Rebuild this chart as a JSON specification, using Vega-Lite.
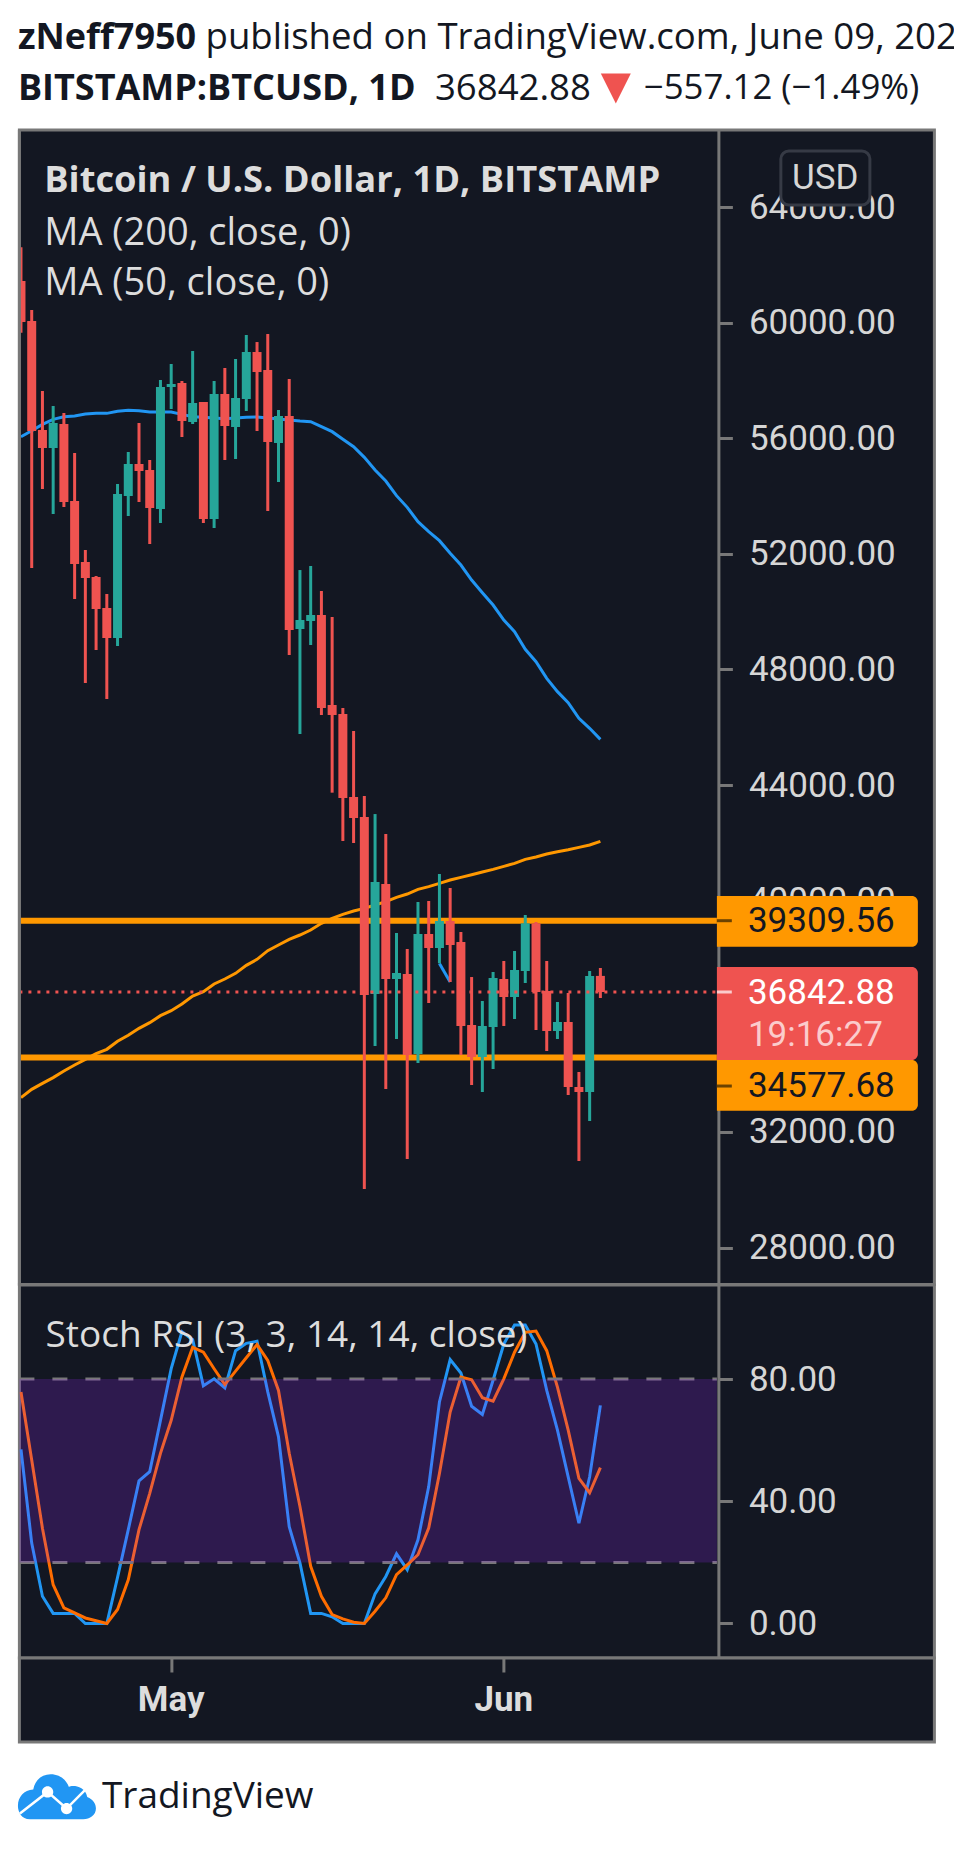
{
  "$schema": "https://vega.github.io/schema/vega-lite/v6.json",
  "background": "#ffffff",
  "padding": {"left": 14.4, "top": 0, "right": 0, "bottom": 0},
  "bounds": "flush",
  "spacing": 0,
  "config": {
    "view": {"stroke": null},
    "text": {"font": "Roboto"},
    "axisY": {
      "grid": false,
      "format": ".2f",
      "domainColor": "#787878",
      "domainWidth": 3,
      "tickColor": "#787878",
      "tickWidth": 3,
      "tickSize": 14,
      "labelPadding": 16,
      "labelFont": "Roboto",
      "labelFontSize": 35,
      "labelColor": "#d6d6d6"
    }
  },
  "datasets": {
    "daily": [
      {"date": "2021-04-17", "open": 61440, "high": 62604, "low": 59652, "close": 60021, "ma50": 56054, "ma200": 33188, "k": 57, "d": 75.8},
      {"date": "2021-04-18", "open": 60056, "high": 60436, "low": 51511, "close": 56250, "ma50": 56262, "ma200": 33476, "k": 26.3, "d": 53.5},
      {"date": "2021-04-19", "open": 56285, "high": 57634, "low": 54244, "close": 55662, "ma50": 56481, "ma200": 33683, "k": 8.9, "d": 31.2},
      {"date": "2021-04-20", "open": 55662, "high": 57115, "low": 53379, "close": 56527, "ma50": 56654, "ma200": 33880, "k": 3.3, "d": 12.7},
      {"date": "2021-04-21", "open": 56493, "high": 56873, "low": 53621, "close": 53794, "ma50": 56746, "ma200": 34110, "k": 3.3, "d": 5.1},
      {"date": "2021-04-22", "open": 53829, "high": 55489, "low": 50438, "close": 51649, "ma50": 56769, "ma200": 34318, "k": 3.3, "d": 3.5},
      {"date": "2021-04-23", "open": 51718, "high": 52134, "low": 47532, "close": 51165, "ma50": 56839, "ma200": 34514, "k": 0, "d": 1.8},
      {"date": "2021-04-24", "open": 51199, "high": 51234, "low": 48674, "close": 50092, "ma50": 56861, "ma200": 34710, "k": 0, "d": 0.9},
      {"date": "2021-04-25", "open": 50127, "high": 50611, "low": 46978, "close": 49089, "ma50": 56861, "ma200": 34860, "k": 0, "d": 0},
      {"date": "2021-04-26", "open": 49089, "high": 54417, "low": 48812, "close": 54071, "ma50": 56931, "ma200": 35137, "k": 15.1, "d": 4.6},
      {"date": "2021-04-27", "open": 54002, "high": 55524, "low": 53310, "close": 55109, "ma50": 56965, "ma200": 35344, "k": 30.7, "d": 14.3},
      {"date": "2021-04-28", "open": 55109, "high": 56527, "low": 53794, "close": 54866, "ma50": 56954, "ma200": 35586, "k": 46.7, "d": 30.7},
      {"date": "2021-04-29", "open": 54901, "high": 55247, "low": 52341, "close": 53587, "ma50": 56908, "ma200": 35782, "k": 49.7, "d": 42.6},
      {"date": "2021-04-30", "open": 53552, "high": 58015, "low": 53068, "close": 57772, "ma50": 56908, "ma200": 36024, "k": 66.5, "d": 55.7},
      {"date": "2021-05-01", "open": 57772, "high": 58568, "low": 57011, "close": 57876, "ma50": 56908, "ma200": 36197, "k": 83.4, "d": 66.5},
      {"date": "2021-05-02", "open": 57911, "high": 57980, "low": 56043, "close": 56596, "ma50": 56827, "ma200": 36428, "k": 95.5, "d": 80.7},
      {"date": "2021-05-03", "open": 56562, "high": 59018, "low": 56493, "close": 57219, "ma50": 56746, "ma200": 36705, "k": 92.9, "d": 90.4},
      {"date": "2021-05-04", "open": 57254, "high": 57254, "low": 53068, "close": 53206, "ma50": 56723, "ma200": 36855, "k": 77.8, "d": 88.8},
      {"date": "2021-05-05", "open": 53206, "high": 57980, "low": 52894, "close": 57530, "ma50": 56700, "ma200": 37120, "k": 80.1, "d": 83.4},
      {"date": "2021-05-06", "open": 57530, "high": 58430, "low": 55247, "close": 56423, "ma50": 56677, "ma200": 37293, "k": 77.1, "d": 78.2},
      {"date": "2021-05-07", "open": 56389, "high": 58741, "low": 55282, "close": 57392, "ma50": 56700, "ma200": 37489, "k": 89.3, "d": 82.6},
      {"date": "2021-05-08", "open": 57357, "high": 59571, "low": 56942, "close": 58983, "ma50": 56723, "ma200": 37766, "k": 91.7, "d": 87},
      {"date": "2021-05-09", "open": 58983, "high": 59329, "low": 56250, "close": 58291, "ma50": 56735, "ma200": 37973, "k": 92.4, "d": 91.3},
      {"date": "2021-05-10", "open": 58361, "high": 59606, "low": 53483, "close": 55870, "ma50": 56700, "ma200": 38273, "k": 75.8, "d": 86.1},
      {"date": "2021-05-11", "open": 55835, "high": 56977, "low": 54486, "close": 56769, "ma50": 56665, "ma200": 38469, "k": 61.1, "d": 76.3},
      {"date": "2021-05-12", "open": 56769, "high": 58049, "low": 48501, "close": 49366, "ma50": 56631, "ma200": 38665, "k": 31.7, "d": 55.7},
      {"date": "2021-05-13", "open": 49401, "high": 51441, "low": 45768, "close": 49712, "ma50": 56596, "ma200": 38815, "k": 19.8, "d": 38.3},
      {"date": "2021-05-14", "open": 49678, "high": 51580, "low": 48847, "close": 49885, "ma50": 56574, "ma200": 38988, "k": 3.3, "d": 18.7},
      {"date": "2021-05-15", "open": 49885, "high": 50716, "low": 46425, "close": 46667, "ma50": 56401, "ma200": 39219, "k": 3.3, "d": 8.9},
      {"date": "2021-05-16", "open": 46771, "high": 49816, "low": 43739, "close": 46426, "ma50": 56228, "ma200": 39392, "k": 2.2, "d": 2.9},
      {"date": "2021-05-17", "open": 46461, "high": 46668, "low": 42067, "close": 43555, "ma50": 55963, "ma200": 39530, "k": 0, "d": 1.5},
      {"date": "2021-05-18", "open": 43589, "high": 45873, "low": 41997, "close": 42863, "ma50": 55709, "ma200": 39646, "k": 0, "d": 0.4},
      {"date": "2021-05-19", "open": 42897, "high": 43624, "low": 30027, "close": 36739, "ma50": 55340, "ma200": 39737, "k": 0, "d": 0},
      {"date": "2021-05-20", "open": 36773, "high": 42999, "low": 34974, "close": 40648, "ma50": 54902, "ma200": 39852, "k": 9.7, "d": 4},
      {"date": "2021-05-21", "open": 40579, "high": 42309, "low": 33487, "close": 37292, "ma50": 54521, "ma200": 39968, "k": 15.4, "d": 8.4},
      {"date": "2021-05-22", "open": 37292, "high": 38884, "low": 35217, "close": 37500, "ma50": 54014, "ma200": 40118, "k": 22.8, "d": 16},
      {"date": "2021-05-23", "open": 37465, "high": 38330, "low": 31065, "close": 34663, "ma50": 53610, "ma200": 40233, "k": 17.6, "d": 19.2},
      {"date": "2021-05-24", "open": 34698, "high": 39956, "low": 34386, "close": 38849, "ma50": 53114, "ma200": 40394, "k": 27.4, "d": 22.5},
      {"date": "2021-05-25", "open": 38849, "high": 39991, "low": 36462, "close": 38365, "ma50": 52768, "ma200": 40487, "k": 44.8, "d": 31.2},
      {"date": "2021-05-26", "open": 38365, "high": 40925, "low": 37834, "close": 39299, "ma50": 52457, "ma200": 40602, "k": 72.5, "d": 49.1},
      {"date": "2021-05-27", "open": 39299, "high": 40441, "low": 37188, "close": 38469, "ma50": 52019, "ma200": 40717, "k": 86.4, "d": 69.2},
      {"date": "2021-05-28", "open": 38572, "high": 38918, "low": 34663, "close": 35666, "ma50": 51615, "ma200": 40810, "k": 82, "d": 80.7},
      {"date": "2021-05-29", "open": 35701, "high": 37361, "low": 33625, "close": 34594, "ma50": 51096, "ma200": 40902, "k": 71.1, "d": 79.8},
      {"date": "2021-05-30", "open": 34594, "high": 36531, "low": 33383, "close": 35666, "ma50": 50658, "ma200": 40994, "k": 68.4, "d": 73.9},
      {"date": "2021-05-31", "open": 35632, "high": 37535, "low": 34179, "close": 37327, "ma50": 50231, "ma200": 41086, "k": 79.6, "d": 72.8},
      {"date": "2021-06-01", "open": 37292, "high": 37915, "low": 35666, "close": 36670, "ma50": 49712, "ma200": 41190, "k": 91.5, "d": 80.1},
      {"date": "2021-06-02", "open": 36670, "high": 38261, "low": 35909, "close": 37604, "ma50": 49309, "ma200": 41294, "k": 97.7, "d": 88.8},
      {"date": "2021-06-03", "open": 37569, "high": 39507, "low": 37154, "close": 39218, "ma50": 48698, "ma200": 41432, "k": 97.7, "d": 95.3},
      {"date": "2021-06-04", "open": 39218, "high": 39264, "low": 35528, "close": 36843, "ma50": 48271, "ma200": 41513, "k": 91.5, "d": 95.7},
      {"date": "2021-06-05", "open": 36877, "high": 37915, "low": 34801, "close": 35493, "ma50": 47694, "ma200": 41617, "k": 76.3, "d": 89.3},
      {"date": "2021-06-06", "open": 35493, "high": 36497, "low": 35217, "close": 35805, "ma50": 47233, "ma200": 41698, "k": 63.3, "d": 77.4},
      {"date": "2021-06-07", "open": 35805, "high": 36808, "low": 33279, "close": 33556, "ma50": 46853, "ma200": 41767, "k": 48, "d": 63.3},
      {"date": "2021-06-08", "open": 33556, "high": 34075, "low": 30996, "close": 33383, "ma50": 46311, "ma200": 41847, "k": 32.8, "d": 47.5},
      {"date": "2021-06-09", "open": 33383, "high": 37569, "low": 32380, "close": 37400, "ma50": 45965, "ma200": 41928, "k": 48, "d": 42.8},
      {"date": "2021-06-10", "open": 37400, "high": 37673, "low": 36635, "close": 36842.88, "ma50": 45584, "ma200": 42055, "k": 71.4, "d": 51}
    ],
    "levels": [
      {"date": "2021-04-16T20:28Z", "dateEnd": "2021-06-20T20:38Z", "price": 39309.56},
      {"date": "2021-04-16T20:28Z", "dateEnd": "2021-06-20T20:38Z", "price": 34577.68}
    ],
    "priceTags": [
      {"date": "2021-06-20T20:38Z", "dateEnd": "2021-07-09T14:10Z", "top": 40164, "bottom": 38411, "kind": "level"},
      {"date": "2021-06-20T20:38Z", "dateEnd": "2021-07-09T14:10Z", "top": 37708, "bottom": 34491, "kind": "last"},
      {"date": "2021-06-20T20:38Z", "dateEnd": "2021-07-09T14:10Z", "top": 34491, "bottom": 32737, "kind": "level"}
    ],
    "tagTicks": [
      {"date": "2021-06-20T20:38Z", "dateEnd": "2021-06-22T06:00Z", "price": 39309.56, "kind": "level"},
      {"date": "2021-06-20T20:38Z", "dateEnd": "2021-06-22T06:00Z", "price": 36842.88, "kind": "last"},
      {"date": "2021-06-20T20:38Z", "dateEnd": "2021-06-22T06:00Z", "price": 33590, "kind": "level"}
    ],
    "tagLabels": [
      {"date": "2021-06-23T18:00Z", "price": 39309, "label": "39309.56", "kind": "level"},
      {"date": "2021-06-23T18:00Z", "price": 36819, "label": "36842.88", "kind": "last"},
      {"date": "2021-06-23T18:00Z", "price": 35355, "label": "19:16:27", "kind": "countdown"},
      {"date": "2021-06-23T18:00Z", "price": 33590, "label": "34577.68", "kind": "level"}
    ]
  },
  "vconcat": [
    {
      "width": 915,
      "height": 130,
      "data": {
        "values": [
          {"date": "2021-04-16T17:07Z", "line": "first", "label": "zNeff7950", "weight": "bold"},
          {"date": "2021-05-04T04:44Z", "line": "first", "label": "published on TradingView.com, June 09, 2021", "weight": "normal"},
          {"date": "2021-04-16T17:07Z", "line": "second", "label": "BITSTAMP:BTCUSD, 1D", "weight": "bold"},
          {"date": "2021-05-25T13:55Z", "line": "second", "label": "36842.88", "weight": "normal"},
          {"date": "2021-06-14T01:12Z", "line": "second", "label": "−557.12 (−1.49%)", "weight": "change"}
        ]
      },
      "encoding": {
        "x": {"field": "date", "type": "temporal", "axis": null, "scale": {"type": "utc", "domain": ["2021-04-16T20:28Z", "2021-07-11T03:07Z"]}},
        "y": {"field": "line", "type": "ordinal", "axis": null, "scale": {"type": "point", "padding": 0, "domain": ["first", "second"], "range": [38, 88.5]}}
      },
      "layer": [
        {
          "transform": [{"filter": "datum.weight == 'bold'"}],
          "mark": {"type": "text", "align": "left", "baseline": "middle", "font": "Open Sans", "fontWeight": "bold", "fontSize": 36, "color": "#131722"},
          "encoding": {"text": {"field": "label"}}
        },
        {
          "transform": [{"filter": "datum.weight == 'normal'"}],
          "mark": {"type": "text", "align": "left", "baseline": "middle", "font": "Open Sans", "fontSize": 36.6, "color": "#131722"},
          "encoding": {"text": {"field": "label"}}
        },
        {
          "transform": [{"filter": "datum.weight == 'change'"}],
          "mark": {"type": "text", "align": "left", "baseline": "middle", "font": "Open Sans", "fontSize": 34.8, "color": "#131722"},
          "encoding": {"text": {"field": "label"}}
        },
        {
          "data": {"values": [{"date": "2021-06-11T10:34Z", "line": "second"}]},
          "mark": {"type": "point", "shape": "M-1,-1L1,-1L0,1Z", "size": 900, "filled": true, "opacity": 1, "color": "#ef5350"}
        }
      ]
    },
    {
      "width": 915,
      "height": 1154.5,
      "view": {"fill": "#131722", "stroke": "#787878", "strokeWidth": 3},
      "encoding": {
        "x": {"field": "date", "type": "temporal", "axis": null, "scale": {"type": "utc", "padding": 0, "domain": ["2021-04-16T20:28Z", "2021-07-11T03:07Z"]}}
      },
      "layer": [
        {
          "data": {"name": "levels"},
          "mark": {"type": "rule", "strokeWidth": 6, "color": "#ff9800"},
          "encoding": {
            "x2": {"field": "dateEnd"},
            "y": {
              "field": "price",
              "type": "quantitative",
              "scale": {"domain": [26724, 66664], "nice": false, "zero": false},
              "axis": {
                "orient": "right",
                "offset": -216,
                "title": null,
                "values": [28000, 32000, 36000, 40000, 44000, 48000, 52000, 56000, 60000, 64000]
              }
            }
          }
        },
        {
          "data": {"name": "daily"},
          "mark": {"type": "line", "strokeWidth": 3, "color": "#2196f3", "clip": true},
          "encoding": {"y": {"field": "ma50", "type": "quantitative", "axis": {"orient": "right", "title": null}}}
        },
        {
          "data": {"name": "daily"},
          "mark": {"type": "line", "strokeWidth": 3, "color": "#ff9800", "clip": true},
          "encoding": {"y": {"field": "ma200", "type": "quantitative", "axis": {"orient": "right", "title": null}}}
        },
        {
          "data": {"values": [{"date": "2021-05-26", "price": 37830}, {"date": "2021-05-27", "price": 37190}]},
          "mark": {"type": "line", "strokeWidth": 3, "color": "#2196f3"},
          "encoding": {"y": {"field": "price", "type": "quantitative", "axis": {"orient": "right", "title": null}}}
        },
        {
          "data": {"name": "daily"},
          "mark": {"type": "rule", "strokeWidth": 3, "clip": true},
          "encoding": {
            "y": {"field": "low", "type": "quantitative", "axis": {"orient": "right", "title": null}},
            "y2": {"field": "high"},
            "color": {"condition": {"test": "datum.close >= datum.open", "value": "#26a69a"}, "value": "#ef5350"}
          }
        },
        {
          "data": {"name": "daily"},
          "mark": {"type": "bar", "width": 9, "clip": true},
          "encoding": {
            "y": {"field": "open", "type": "quantitative", "axis": {"orient": "right", "title": null}},
            "y2": {"field": "close"},
            "color": {"condition": {"test": "datum.close >= datum.open", "value": "#26a69a"}, "value": "#ef5350"}
          }
        },
        {
          "data": {"values": [{"date": "2021-04-16T20:28Z", "dateEnd": "2021-06-20T20:38Z", "price": 36842.88}]},
          "mark": {"type": "rule", "strokeWidth": 3, "strokeDash": [3, 6], "color": "#ef5350"},
          "encoding": {"x2": {"field": "dateEnd"}, "y": {"field": "price", "type": "quantitative", "axis": {"orient": "right", "title": null}}}
        },
        {
          "data": {"values": [{"date": "2021-04-16T20:28Z"}]},
          "mark": {"type": "rule", "strokeWidth": 3, "color": "#787878"}
        },
        {
          "data": {"name": "priceTags"},
          "mark": {"type": "bar", "cornerRadiusTopRight": 6, "cornerRadiusBottomRight": 6},
          "encoding": {
            "x2": {"field": "dateEnd"},
            "y": {"field": "top", "type": "quantitative", "axis": {"orient": "right", "title": null}},
            "y2": {"field": "bottom"},
            "color": {"condition": {"test": "datum.kind == 'last'", "value": "#ef5350"}, "value": "#ff9800"}
          }
        },
        {
          "data": {"name": "tagTicks"},
          "mark": {"type": "rule", "strokeWidth": 3},
          "encoding": {
            "x2": {"field": "dateEnd"},
            "y": {"field": "price", "type": "quantitative", "axis": {"orient": "right", "title": null}},
            "color": {"condition": {"test": "datum.kind == 'last'", "value": "#fbcccc"}, "value": "#6b4200"}
          }
        },
        {
          "data": {"name": "tagLabels"},
          "mark": {"type": "text", "align": "left", "baseline": "middle", "font": "Roboto", "fontSize": 35},
          "encoding": {
            "y": {"field": "price", "type": "quantitative", "axis": {"orient": "right", "title": null}},
            "text": {"field": "label"},
            "color": {
              "condition": [
                {"test": "datum.kind == 'level'", "value": "#131722"},
                {"test": "datum.kind == 'last'", "value": "#ffffff"}
              ],
              "value": "#fbcccc"
            }
          }
        },
        {
          "data": {"values": [{"date": "2021-06-26T19:40Z", "dateEnd": "2021-07-05T02:50Z", "top": 65937, "bottom": 64069}]},
          "mark": {"type": "bar", "cornerRadius": 8, "color": "#131722", "stroke": "#363a45", "strokeWidth": 3},
          "encoding": {
            "x2": {"field": "dateEnd"},
            "y": {"field": "top", "type": "quantitative", "axis": {"orient": "right", "title": null}},
            "y2": {"field": "bottom"}
          }
        },
        {
          "data": {"values": [{"date": "2021-06-30T23:00Z", "price": 65003, "label": "USD"}]},
          "mark": {"type": "text", "align": "center", "baseline": "middle", "font": "Roboto", "fontSize": 35, "color": "#d6d6d6"},
          "encoding": {"y": {"field": "price", "type": "quantitative", "axis": {"orient": "right", "title": null}}, "text": {"field": "label"}}
        },
        {
          "data": {"values": [{"date": "2021-04-19T04:00Z", "price": 64900, "label": "Bitcoin / U.S. Dollar, 1D, BITSTAMP"}]},
          "mark": {"type": "text", "align": "left", "baseline": "middle", "font": "Open Sans", "fontWeight": "bold", "fontSize": 36.3, "color": "#dddddd"},
          "encoding": {"y": {"field": "price", "type": "quantitative", "axis": {"orient": "right", "title": null}}, "text": {"field": "label"}}
        },
        {
          "data": {"values": [
            {"date": "2021-04-19T04:00Z", "price": 63052, "label": "MA (200, close, 0)"},
            {"date": "2021-04-19T04:00Z", "price": 61322, "label": "MA (50, close, 0)"}
          ]},
          "mark": {"type": "text", "align": "left", "baseline": "middle", "font": "Open Sans", "fontSize": 38, "color": "#dddddd"},
          "encoding": {"y": {"field": "price", "type": "quantitative", "axis": {"orient": "right", "title": null}}, "text": {"field": "label"}}
        }
      ]
    },
    {
      "width": 915,
      "height": 373,
      "view": {"fill": "#131722", "stroke": "#787878", "strokeWidth": 3},
      "encoding": {
        "x": {"field": "date", "type": "temporal", "axis": null, "scale": {"type": "utc", "padding": 0, "domain": ["2021-04-16T20:28Z", "2021-07-11T03:07Z"]}}
      },
      "layer": [
        {
          "data": {"name": "daily"},
          "mark": {"type": "line", "strokeWidth": 3, "color": "#2196f3", "clip": true},
          "encoding": {
            "y": {
              "field": "k",
              "type": "quantitative",
              "scale": {"domain": [-11.3, 110.8], "nice": false, "zero": false},
              "axis": {"orient": "right", "offset": -216, "title": null, "values": [0, 40, 80]}
            }
          }
        },
        {
          "data": {"name": "daily"},
          "mark": {"type": "line", "strokeWidth": 3, "color": "#ff6d00", "clip": true},
          "encoding": {"y": {"field": "d", "type": "quantitative", "axis": {"orient": "right", "title": null}}}
        },
        {
          "data": {"values": [
            {"date": "2021-04-16T20:28Z", "dateEnd": "2021-06-20T20:38Z", "level": 80},
            {"date": "2021-04-16T20:28Z", "dateEnd": "2021-06-20T20:38Z", "level": 20}
          ]},
          "mark": {"type": "rule", "strokeWidth": 3, "strokeDash": [15, 18], "color": "#787878"},
          "encoding": {"x2": {"field": "dateEnd"}, "y": {"field": "level", "type": "quantitative", "axis": {"orient": "right", "title": null}}}
        },
        {
          "data": {"values": [{"date": "2021-04-16T20:28Z", "dateEnd": "2021-06-20T20:38Z", "upper": 80, "lower": 20}]},
          "mark": {"type": "bar", "color": "#9c27ff", "opacity": 0.2},
          "encoding": {
            "x2": {"field": "dateEnd"},
            "y": {"field": "upper", "type": "quantitative", "axis": {"orient": "right", "title": null}},
            "y2": {"field": "lower"}
          }
        },
        {
          "data": {"values": [{"date": "2021-04-19T07:00Z", "value": 94.2, "label": "Stoch RSI (3, 3, 14, 14, close)"}]},
          "mark": {"type": "text", "align": "left", "baseline": "middle", "font": "Open Sans", "fontSize": 37, "color": "#dddddd"},
          "encoding": {"y": {"field": "value", "type": "quantitative", "axis": {"orient": "right", "title": null}}, "text": {"field": "label"}}
        }
      ]
    },
    {
      "width": 915,
      "height": 84,
      "view": {"fill": "#131722", "stroke": "#787878", "strokeWidth": 3},
      "data": {"values": [{"date": "2021-05-01", "month": "May"}, {"date": "2021-06-01", "month": "Jun"}]},
      "mark": {"type": "text", "font": "Roboto", "fontWeight": "bold", "fontSize": 35, "color": "#dddddd"},
      "encoding": {
        "x": {
          "field": "date",
          "type": "temporal",
          "scale": {"type": "utc", "domain": ["2021-04-16T20:28Z", "2021-07-11T03:07Z"]},
          "axis": {
            "orient": "bottom",
            "offset": -84,
            "title": null,
            "values": ["2021-05-01", "2021-06-01"],
            "labels": false,
            "grid": false,
            "domain": false,
            "tickColor": "#787878",
            "tickWidth": 3,
            "tickSize": 14
          }
        },
        "text": {"field": "month"}
      }
    },
    {
      "width": 915,
      "height": 109.5,
      "encoding": {
        "x": {"field": "date", "type": "temporal", "axis": null, "scale": {"type": "utc", "domain": ["2021-04-16T20:28Z", "2021-07-11T03:07Z"]}}
      },
      "layer": [
        {
          "data": {"values": [{"date": "2021-04-20T08:24Z"}]},
          "mark": {
            "type": "point",
            "filled": true,
            "opacity": 1,
            "size": 6084,
            "color": "#2196f3",
            "shape": "M-.692,.577C-.906,.577,-1,.389,-1,.235C-1,.004,-.846,-.167,-.607,-.184C-.564,-.423,-.393,-.577,-.162,-.577C.077,-.577,.231,-.44,.308,-.252C.376,-.295,.718,-.295,.778,.004C.932,.073,1,.175,1,.303C1,.474,.846,.577,.675,.577Z"
          }
        },
        {
          "data": {"values": [{"date": "2021-04-20T08:24Z"}]},
          "mark": {
            "type": "point",
            "filled": false,
            "opacity": 1,
            "size": 6084,
            "color": "#ffffff",
            "strokeWidth": 2.5,
            "shape": "M-.949,.432L-.239,-.124L.248,.303L.718,-.167"
          }
        },
        {
          "data": {"values": [{"date": "2021-04-20T08:24Z"}]},
          "mark": {
            "type": "point",
            "filled": true,
            "opacity": 1,
            "size": 6084,
            "color": "#ffffff",
            "shape": "M-.384,-.124a.145,.145,0,1,0,.29,0a.145,.145,0,1,0,-.29,0ZM.103,.303a.145,.145,0,1,0,.29,0a.145,.145,0,1,0,-.29,0Z"
          }
        },
        {
          "data": {"values": [{"date": "2021-04-24T13:00Z", "label": "TradingView"}]},
          "mark": {"type": "text", "align": "left", "baseline": "middle", "font": "Open Sans", "fontSize": 37, "color": "#131722"},
          "encoding": {"text": {"field": "label"}}
        }
      ]
    }
  ]
}
